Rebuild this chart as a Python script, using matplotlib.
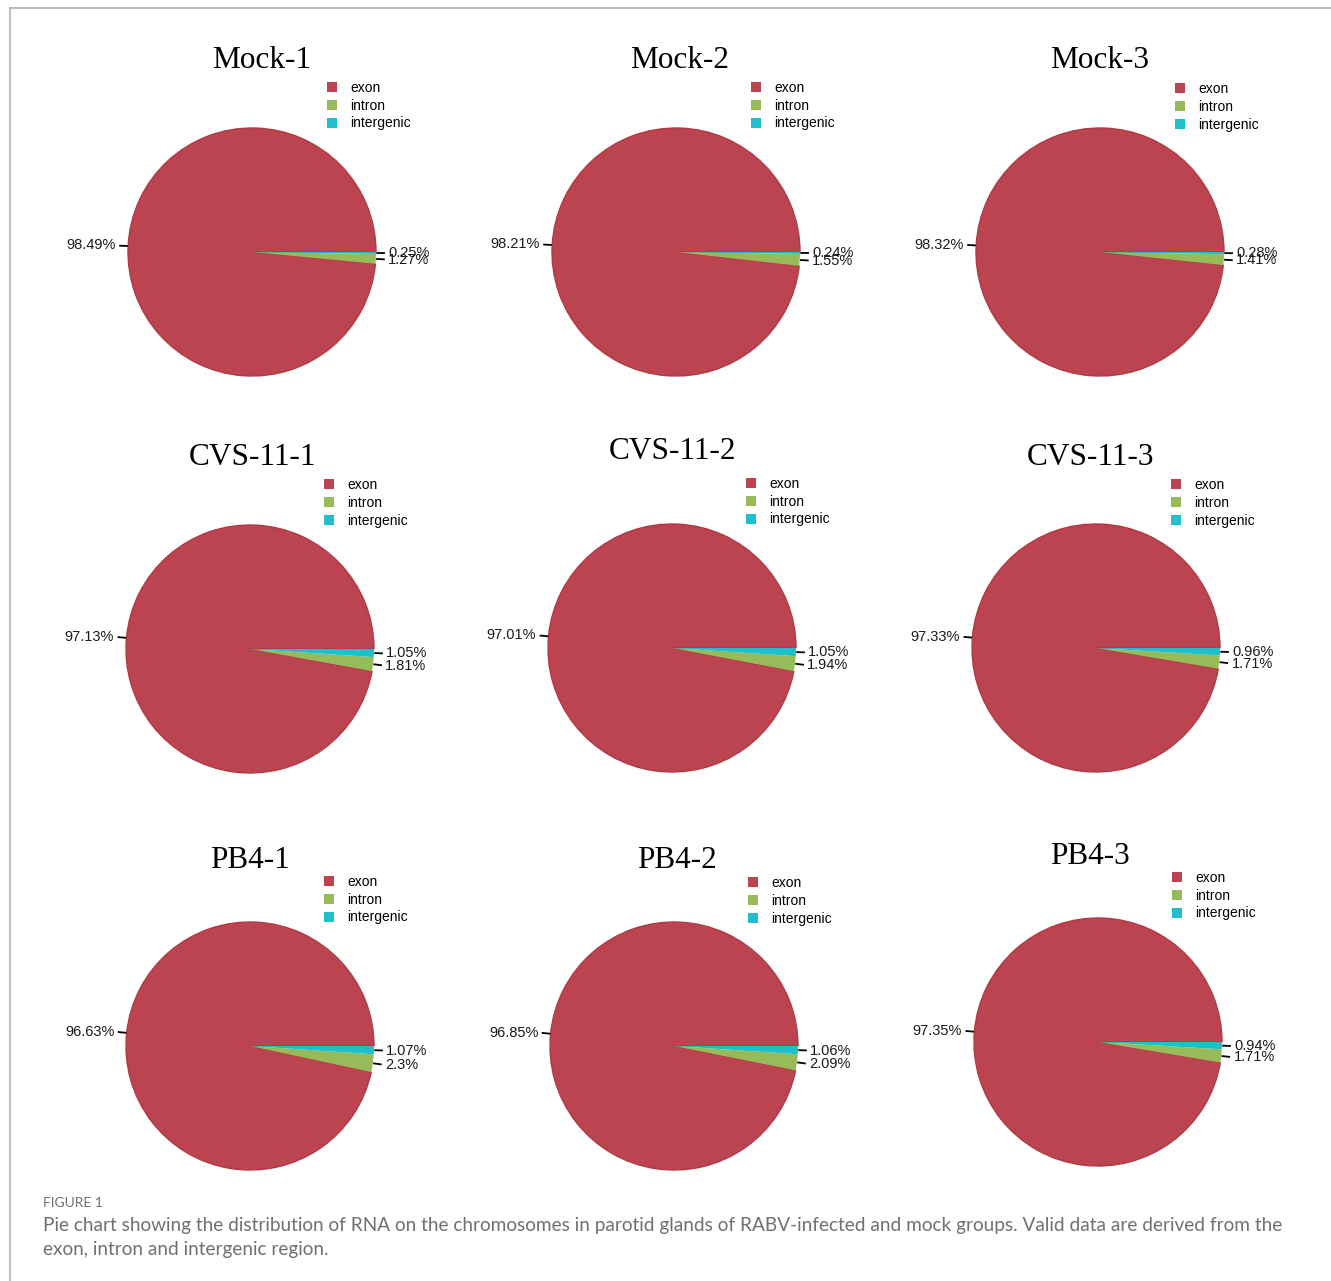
import matplotlib.pyplot as plt
from matplotlib.lines import Line2D
from matplotlib.patches import Patch
import numpy as np

W, H = 1331, 1281

samples = ['Mock-1', 'Mock-2', 'Mock-3',
           'CVS-11-1', 'CVS-11-2', 'CVS-11-3',
           'PB4-1', 'PB4-2', 'PB4-3']
regions = ['exon', 'intron', 'intergenic']
exon = [98.49, 98.21, 98.32, 97.13, 97.01, 97.33, 96.63, 96.85, 97.35]
intron = [1.27, 1.55, 1.41, 1.81, 1.94, 1.71, 2.3, 2.09, 1.71]
intergenic = [0.25, 0.24, 0.28, 1.05, 1.05, 0.96, 1.07, 1.06, 0.94]

colors = ['#BC4450', '#98BB5A', '#1FBFCB']

# pixel layout of each panel: pie centre, title position, legend corner
pie_centers = [(252, 252), (676, 252), (1100, 252),
               (250, 649), (672, 648), (1096, 648),
               (250, 1046), (674, 1046), (1098, 1042)]
title_pos = [(262, 60), (680, 60), (1100, 60),
             (252, 458), (672, 452), (1090, 458),
             (250, 860), (677, 860), (1090, 857)]
legend_pos = [(327, 81), (751, 81), (1175, 82),
              (324, 478), (746, 477), (1171, 478),
              (324, 875), (748, 876), (1172, 871)]
R = 124


def fx(x):
    return x / W


def fy(y):
    return 1 - y / H


fig = plt.figure(figsize=(W / 100, H / 100), dpi=100)

# frame lines along top and left
fig.add_artist(Line2D([fx(10), 1], [fy(8), fy(8)], color='#b0b0b0', lw=1.2,
                      transform=fig.transFigure))
fig.add_artist(Line2D([fx(10), fx(10)], [fy(8), 0], color='#b0b0b0', lw=1.2,
                      transform=fig.transFigure))

handles = [Patch(facecolor=c, edgecolor='none') for c in colors]

for i, name in enumerate(samples):
    cx, cy = pie_centers[i]
    ax = fig.add_axes([fx(cx - R), fy(cy + R), 2 * R / W, 2 * R / H])
    vals = [exon[i], intron[i], intergenic[i]]
    wedges, _ = ax.pie(vals, colors=colors, startangle=0, counterclock=True,
                       radius=1, wedgeprops=dict(linewidth=0))
    # darker rim around the exon slice
    wedges[0].set_edgecolor('#B03A44')
    wedges[0].set_linewidth(1.0)
    ax.set_xlim(-1, 1)
    ax.set_ylim(-1, 1)
    ax.set_aspect('equal')
    ax.axis('off')

    # value labels with short radial ticks
    total = sum(vals)
    start = 0.0
    for v in vals:
        ang = np.deg2rad(start + v / total * 360 / 2)
        start += v / total * 360
        c, s = np.cos(ang), np.sin(ang)
        ax.plot([1.01 * c, 1.065 * c], [1.01 * s, 1.065 * s], color='black',
                lw=1.3, clip_on=False)
        ha = 'left' if c > 0 else 'right'
        ax.text(1.10 * c, 1.10 * s, f'{v:g}%', ha=ha, va='center',
                fontsize=10.5, family='Liberation Sans', color='#1a1a1a',
                clip_on=False)

    tx, ty = title_pos[i]
    fig.text(fx(tx), fy(ty), name, ha='center', va='center', fontsize=22.5,
             family='Liberation Serif')

    lx, ly = legend_pos[i]
    fig.legend(handles, regions, loc='upper left',
               bbox_to_anchor=(fx(lx), fy(ly)), frameon=False,
               prop=dict(family='Liberation Sans', size=10),
               handlelength=0.75, handleheight=0.75, handletextpad=0.9,
               labelspacing=0.27, borderpad=0, borderaxespad=0)

fig.text(fx(43), fy(1203), 'FIGURE 1', ha='left', va='center',
         fontsize=10, color='#707070', family='Lato')
fig.text(fx(43), fy(1226),
         'Pie chart showing the distribution of RNA on the chromosomes in parotid '
         'glands of RABV-infected and mock groups. Valid data are derived from the',
         ha='left', va='center', fontsize=13.7, color='#707070', family='Lato')
fig.text(fx(43), fy(1250), 'exon, intron and intergenic region.',
         ha='left', va='center', fontsize=13.7, color='#707070', family='Lato')

fig.savefig('out.png', dpi=100, facecolor='white')
